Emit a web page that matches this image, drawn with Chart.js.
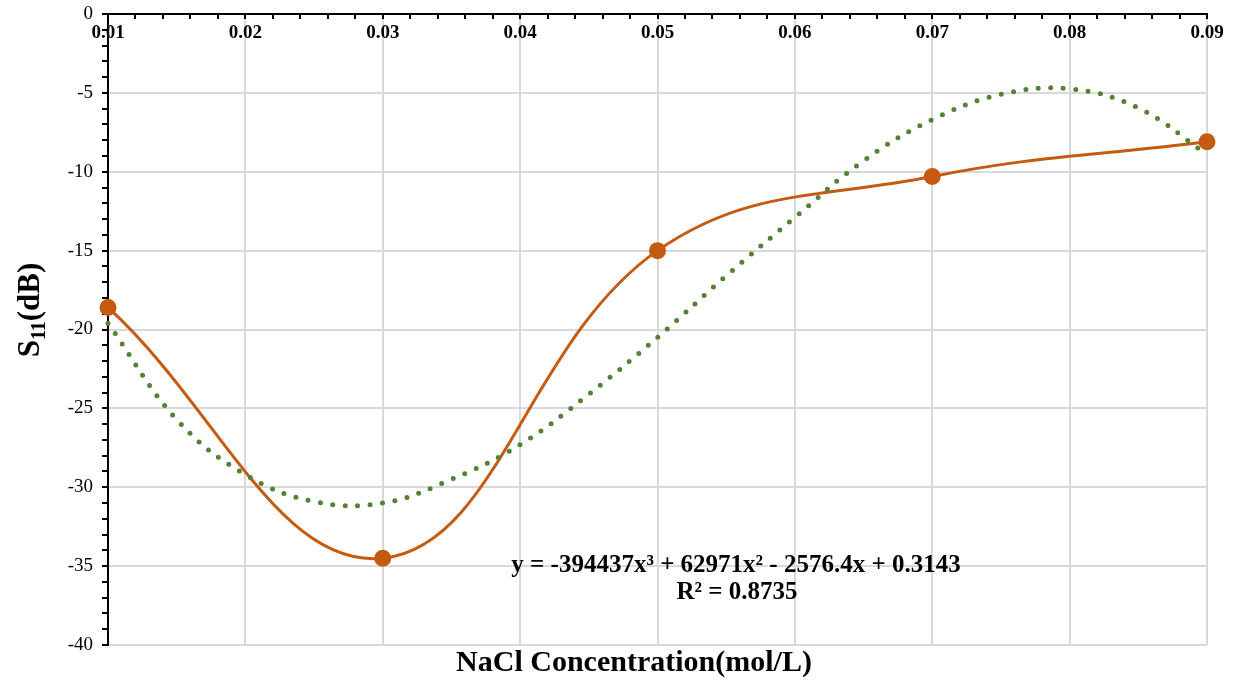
<!DOCTYPE html>
<html>
<head>
<meta charset="utf-8">
<script src="https://cdn.jsdelivr.net/npm/chart.js@4.4.0/dist/chart.umd.min.js"></script>
<style>
  body { margin: 0; background: #fff; }
  #wrap { width: 1236px; height: 686px; }
</style>
</head>
<body>
<div id="wrap"><canvas id="myChart"></canvas></div>
<script>
// measured points (S11 vs NaCl concentration)
const concentration = [0.01, 0.03, 0.05, 0.07, 0.09];
const s11 = [-18.6, -34.5, -15.0, -10.3, -8.1];

// polynomial trendline
const trendX = [0.01, 0.015, 0.02, 0.025, 0.03, 0.035, 0.04, 0.045, 0.05, 0.055, 0.06, 0.065, 0.07, 0.075, 0.08, 0.085, 0.09];
const trendY = [-19.6, -25.7, -29.2, -30.9, -31.0, -29.5, -27.3, -24.1, -20.5, -16.6, -12.9, -9.3, -6.7, -5.1, -4.75, -5.96, -8.9];

const equationText = 'y = -394437x\u00b3 + 62971x\u00b2 - 2576.4x + 0.3143';
const r2Text = 'R\u00b2 = 0.8735';
const xTitle = 'NaCl Concentration(mol/L)';

const serif = '"Liberation Serif", "Times New Roman", serif';

const labelsPlugin = {
    id: 'labelsPlugin',
    afterDraw(chart) {
        const c = chart.ctx;
        c.save();
        c.fillStyle = '#000';
        // equation box
        c.textAlign = 'center';
        c.textBaseline = 'middle';
        c.font = 'bold 25px ' + serif;
        c.fillText(equationText, 736, 566);
        c.fillText(r2Text, 737, 593);
        // x title
        c.font = 'bold 30px ' + serif;
        c.fillText(xTitle, 634, 663);
        // y title with subscript
        c.translate(28, 310);
        c.rotate(-Math.PI / 2);
        c.textAlign = 'left';
        c.textBaseline = 'alphabetic';
        c.font = 'bold 31px ' + serif;
        const sW = c.measureText('S').width;
        c.font = 'bold 20px ' + serif;
        const subW = c.measureText('11').width;
        c.font = 'bold 31px ' + serif;
        const restW = c.measureText('(dB)').width;
        let x0 = -(sW + subW + restW) / 2;
        c.fillText('S', x0, 11);
        c.font = 'bold 20px ' + serif;
        c.fillText('11', x0 + sW, 17);
        c.font = 'bold 31px ' + serif;
        c.fillText('(dB)', x0 + sW + subW, 11);
        c.restore();
    }
};

const isMajor = (v, step) => Math.abs(Math.round(v / step) * step - v) < step / 100;

var ctx = document.getElementById('myChart');
var myChart = new Chart(ctx, {
    type: 'line',
    data: {
        datasets: [{
            data: concentration.map((x, i) => ({x: x, y: s11[i]})),
            borderColor: '#C55A11',
            backgroundColor: '#C55A11',
            borderWidth: 3,
            pointRadius: 7,
            pointHoverRadius: 7,
            tension: 0.4,
            clip: false,
            order: 1
        }, {
            data: trendX.map((x, i) => ({x: x, y: trendY[i]})),
            borderColor: '#548235',
            borderWidth: 5,
            borderDash: [0, 12.5],
            borderCapStyle: 'round',
            pointRadius: 0,
            tension: 0.4,
            clip: false,
            order: 0
        }]
    },
    options: {
        responsive: true,
        maintainAspectRatio: false,
        animation: false,
        layout: {
            padding: {left: 0, top: 0, right: 29, bottom: 41}
        },
        plugins: {
            legend: {display: false},
            tooltip: {enabled: false}
        },
        scales: {
            x: {
                type: 'linear',
                position: 'top',
                min: 0.01,
                max: 0.09,
                afterFit(scale) { scale.height = 14; },
                border: {color: '#000', width: 2},
                grid: {
                    color: c => isMajor(c.tick.value, 0.01) ? '#d9d9d9' : 'rgba(0,0,0,0)',
                    lineWidth: 2,
                    tickColor: '#000',
                    tickLength: -5,
                    tickWidth: 2
                },
                ticks: {
                    stepSize: 0.002,
                    autoSkip: false,
                    maxRotation: 0,
                    mirror: true,
                    padding: 8,
                    color: '#000',
                    font: {family: serif, size: 19, weight: 'bold'},
                    callback: v => isMajor(v, 0.01) ? (Math.round(v * 100) / 100).toString() : ''
                }
            },
            y: {
                min: -40,
                max: 0,
                afterFit(scale) { scale.width = 108; },
                border: {color: '#000', width: 2},
                grid: {
                    color: c => isMajor(c.tick.value, 5) ? '#d9d9d9' : 'rgba(0,0,0,0)',
                    lineWidth: 2,
                    tickColor: '#000',
                    tickLength: 6,
                    tickWidth: 2
                },
                ticks: {
                    stepSize: 1,
                    autoSkip: false,
                    padding: 9,
                    color: '#000',
                    font: {family: serif, size: 19, lineHeight: 0.5},
                    callback: v => isMajor(v, 5) ? v.toString() : ''
                }
            }
        }
    },
    plugins: [labelsPlugin]
});
</script>
</body>
</html>
